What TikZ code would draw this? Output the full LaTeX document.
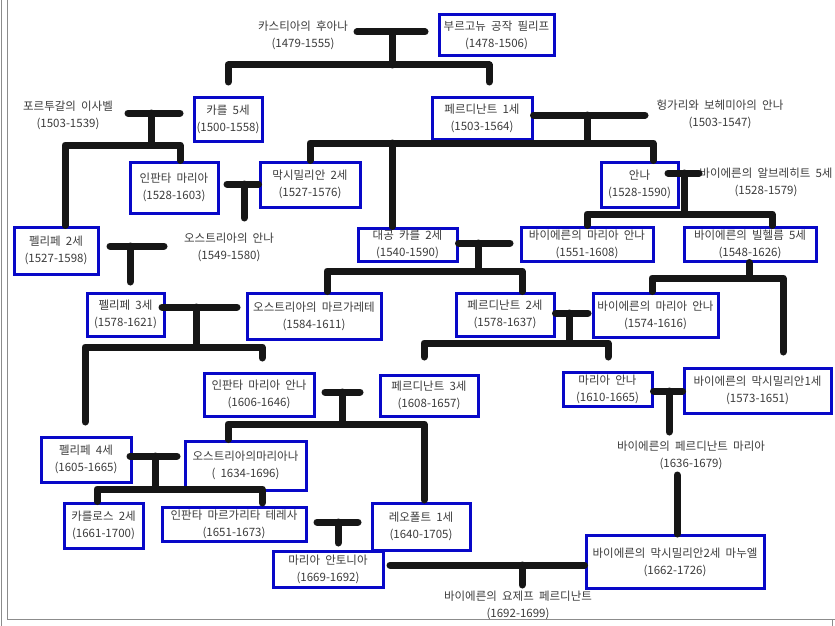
\documentclass[tikz,border=0pt]{standalone}
\usepackage{fontspec}
\setmainfont{Noto Sans CJK KR}[WordSpace=2.0]
\definecolor{boxblue}{RGB}{8,8,200}
\definecolor{conncol}{RGB}{22,22,22}
\definecolor{txtcol}{RGB}{60,60,60}
\begin{document}
\begin{tikzpicture}[x=1pt,y=-1pt,
  box/.style={draw=boxblue,line width=3pt,inner sep=0pt,align=center,text=txtcol,
    font=\fontsize{11.5}{17}\selectfont},
  lbl/.style={inner sep=0pt,align=center,text=txtcol,font=\fontsize{11.5}{17}\selectfont},
  conn/.style={draw=conncol,line width=7pt,line cap=round,line join=round},
  frame/.style={draw=black!45,line width=0.8pt}]
\useasboundingbox (0,0) rectangle (835,626);
\fill[white] (0,0) rectangle (835,626);
% frame
\draw[frame] (1.5,0) -- (1.5,626);
\draw[frame] (7,0) -- (7,619) -- (835,619);
\draw[frame] (832,619) -- (832,626);
% boxes
\node[box,minimum width=115pt,minimum height=41pt] (phil) at (496.5,35.5) {부르고뉴 공작 필리프\\(1478-1506)};
\node[box,minimum width=68pt,minimum height=44pt] (karl5) at (228,119) {카를 5세\\(1500-1558)};
\node[box,minimum width=100pt,minimum height=42pt] (ferd1) at (482,118) {페르디난트 1세\\(1503-1564)};
\node[box,minimum width=88pt,minimum height=51pt] (imaria) at (174,187.5) {인판타 마리아\\(1528-1603)};
\node[box,minimum width=100pt,minimum height=45pt] (max2) at (310,184.5) {막시밀리안 2세\\(1527-1576)};
\node[box,minimum width=77pt,minimum height=45pt] (anna) at (639.5,184.5) {안나\\(1528-1590)};
\node[box,minimum width=84pt,minimum height=47pt] (phil2) at (56,250.5) {펠리페 2세\\(1527-1598)};
\node[box,minimum width=99pt,minimum height=33pt] (karl2) at (407.5,244.5) {대공 카를 2세\\(1540-1590)};
\node[box,minimum width=132pt,minimum height=34pt] (mab) at (587,244) {바이에른의 마리아 안나\\(1551-1608)};
\node[box,minimum width=132pt,minimum height=34pt] (wil5) at (750,244) {바이에른의 빌헬름 5세\\(1548-1626)};
\node[box,minimum width=77pt,minimum height=43pt] (phil3) at (125.5,314.5) {펠리페 3세\\(1578-1621)};
\node[box,minimum width=134pt,minimum height=46pt] (marg) at (314,316) {오스트리아의 마르가레테\\(1584-1611)};
\node[box,minimum width=98pt,minimum height=43pt] (ferd2) at (505,314.5) {페르디난트 2세\\(1578-1637)};
\node[box,minimum width=125pt,minimum height=44pt] (mab2) at (655.5,315) {바이에른의 마리아 안나\\(1574-1616)};
\node[box,minimum width=110pt,minimum height=43pt] (ima) at (259,394.5) {인판타 마리아 안나\\(1606-1646)};
\node[box,minimum width=98pt,minimum height=41pt] (ferd3) at (429,395.5) {페르디난트 3세\\(1608-1657)};
\node[box,minimum width=89pt,minimum height=34pt] (maan) at (607.5,389) {마리아 안나\\(1610-1665)};
\node[box,minimum width=147pt,minimum height=45pt] (max1) at (757.5,390.5) {바이에른의 막시밀리안1세\\(1573-1651)};
\node[box,minimum width=90pt,minimum height=45pt] (phil4) at (86,459.5) {펠리페 4세\\(1605-1665)};
\node[box,minimum width=121pt,minimum height=49pt] (mariana) at (245.5,465.5) {오스트리아의마리아나\\( 1634-1696)};
\node[box,minimum width=79pt,minimum height=45pt] (carlos) at (103.5,525.5) {카를로스 2세\\(1661-1700)};
\node[box,minimum width=144pt,minimum height=34pt] (teresa) at (234,524) {인판타 마르가리타 테레사\\(1651-1673)};
\node[box,minimum width=98pt,minimum height=47pt] (leo) at (421,526.5) {레오폴트 1세\\(1640-1705)};
\node[box,minimum width=110pt,minimum height=36pt] (anton) at (328,569) {마리아 안토니아\\(1669-1692)};
\node[box,minimum width=178pt,minimum height=53pt] (maxe) at (675,562) {바이에른의 막시밀리안2세 마누엘\\(1662-1726)};
% free labels
\node[lbl] (juana) at (303,35) {카스티아의 후아나\\(1479-1555)};
\node[lbl] (isabel) at (68,115.5) {포르투갈의 이사벨\\(1503-1539)};
\node[lbl] (annahu) at (720,114.5) {헝가리와 보헤미아의 안나\\(1503-1547)};
\node[lbl] (albrecht) at (766,182) {바이에른의 알브레히트 5세\\(1528-1579)};
\node[lbl] (annaau) at (229,247.5) {오스트리아의 안나\\(1549-1580)};
\node[lbl] (ferdmaria) at (691,455) {바이에른의 페르디난트 마리아\\(1636-1679)};
\node[lbl] (joseph) at (518,605.5) {바이에른의 요제프 페르디난트\\(1692-1699)};
% connectors
% Juana - Philip
\draw[conn] (357,32) -- (425,32);
\draw[conn] (392,32) -- (392,65);
\draw[conn] (228,82) -- (228,65) -- (489,65) -- (489,82);
% Isabel - Karl 5
\draw[conn] (128,113) -- (180,113);
\draw[conn] (151,113) -- (151,145);
\draw[conn] (phil2.north -| 65,0) -- (65,145) -- (180,145) -- (imaria.north -| 180,0);
% Ferdinand 1 - Anna of Hungary
\draw[conn] (ferd1.east |- 0,115) -- (645,115);
\draw[conn] (587,115) -- (587,143);
\draw[conn] (max2.north -| 310,0) -- (310,143) -- (653,143) -- (anna.north -| 653,0);
\draw[conn] (392,143) -- (karl2.north -| 392,0);
% Infanta Maria - Maximilian 2
\draw[conn] (227,184) -- (max2.west |- 0,184);
\draw[conn] (244,184) -- (244,218);
% Anna - Albrecht 5
\draw[conn] (668,173) -- (699,173);
\draw[conn] (684,173) -- (684,214);
\draw[conn] (mab.north -| 587,0) -- (587,214) -- (772,214) -- (wil5.north -| 772,0);
% Philip 2 - Anna of Austria
\draw[conn] (110,246) -- (164,246);
\draw[conn] (130,246) -- (130,282);
% Karl 2 - Maria Anna
\draw[conn] (karl2.east |- 0,243) -- (510,243);
\draw[conn] (478,243) -- (478,271);
\draw[conn] (marg.north -| 327,0) -- (327,271) -- (522,271) -- (ferd2.north -| 522,0);
% Wilhelm 5
\draw[conn] (wil5.south -| 749,0) -- (749,278);
\draw[conn] (mab2.north -| 652,0) -- (652,278) -- (783,278) -- (783,352);
% Philip 3 - Margarete
\draw[conn] (162,307) -- (237,307);
\draw[conn] (196,307) -- (196,347);
\draw[conn] (85,422) -- (85,347) -- (262,347) -- (262,358);
% Ferdinand 2 - Maria Anna
\draw[conn] (ferd2.east |- 0,313) -- (588,313);
\draw[conn] (569,313) -- (569,343);
\draw[conn] (424,357) -- (424,343) -- (608,343) -- (608,357);
% Maximilian 1 - Maria Anna
\draw[conn] (maan.east |- 0,391) -- (max1.west |- 0,391);
\draw[conn] (669,391) -- (669,432);
% Infanta Maria Anna - Ferdinand 3
\draw[conn] (325,392) -- (360,392);
\draw[conn] (342,392) -- (342,424);
\draw[conn] (mariana.north -| 228,0) -- (228,424) -- (424,424) -- (424,500);
% Philip 4 - Mariana
\draw[conn] (130,456) -- (177,456);
\draw[conn] (155,456) -- (155,489);
\draw[conn] (carlos.north -| 97,0) -- (97,489) -- (262,489) -- (262,503);
% Leopold - Teresa
\draw[conn] (317,522) -- (358,522);
\draw[conn] (338,522) -- (338,543);
% Maria Antonia - Max Emanuel
\draw[conn] (390,565) -- (maxe.west |- 0,565);
\draw[conn] (522,565) -- (522,585);
% Ferdinand Maria - Max Emanuel
\draw[conn] (677,475) -- (maxe.north -| 677,0);
\end{tikzpicture}
\end{document}
